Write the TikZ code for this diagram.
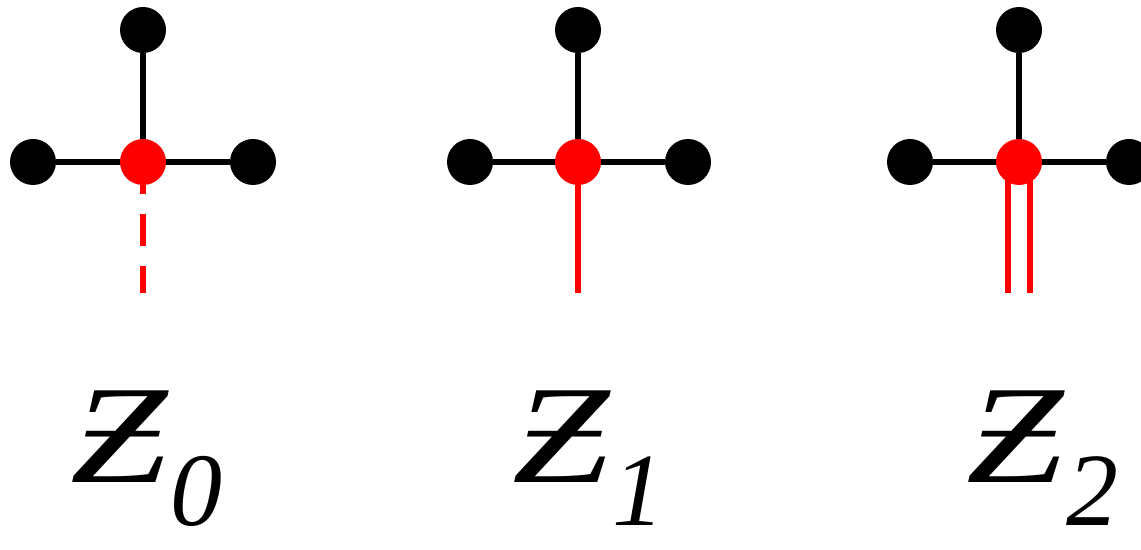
\documentclass[tikz,border=0pt]{standalone}
\usepackage{fontspec}
\newfontfamily\labelfont{Liberation Serif}
\usetikzlibrary{backgrounds}

\tikzset{
  site/.style={circle,fill=black,inner sep=0pt,minimum size=23pt},
  hub/.style={circle,fill=red,inner sep=0pt,minimum size=23pt},
  bond/.style={line width=2.8pt,black},
  leg/.style={line width=3pt,red},
  zlabel/.style={anchor=base west,inner sep=0pt,font=\labelfont\itshape\fontsize{70}{80}\selectfont}
}
\newcommand{\zletter}{\scalebox{1.25}[1]{Ƶ}}
\newcommand{\zsub}[1]{\hspace{0.02em}\raisebox{-0.3em}{\fontsize{52}{60}\selectfont #1}}

\begin{document}
\begin{tikzpicture}[x=0.5pt,y=-0.5pt]
        \useasboundingbox (0,0) rectangle (1141,550);
        % first star
        \node[hub] (c0) at (143,162) {};
        \node[site] (t0) at (143,30) {};
        \node[site] (l0) at (33,162) {};
        \node[site] (r0) at (253,162) {};
        \coordinate (e0) at (143,293);
        % second star
        \node[hub] (c1) at (578,162) {};
        \node[site] (t1) at (578,30) {};
        \node[site] (l1) at (470,162) {};
        \node[site] (r1) at (688,162) {};
        \coordinate (e1) at (578,293);
        % third star
        \node[hub] (c2) at (1019,162) {};
        \node[site] (t2) at (1019,30) {};
        \node[site] (l2) at (910,162) {};
        \node[site] (r2) at (1129,162) {};
        \coordinate (e2) at (1019,293);
        \begin{scope}[on background layer]
        \draw[bond] (l0) -- (r0);
        \draw[bond] (t0) -- (c0);
        \draw[bond] (l1) -- (r1);
        \draw[bond] (t1) -- (c1);
        \draw[bond] (l2) -- (r2);
        \draw[bond] (t2) -- (c2);
        \draw[leg,dash pattern=on 16pt off 10pt] (c0.center) -- (e0);
        \draw[leg] (c1.center) -- (e1);
        \draw[leg] ([xshift=-5.5pt]c2.center) -- ([xshift=-5.5pt]e2);
        \draw[leg] ([xshift=5.5pt]c2.center) -- ([xshift=5.5pt]e2);
        \end{scope}
        % labels
        \node[zlabel] (z0) at (70,483) {\zletter\zsub{0}};
        \node[zlabel] (z1) at (512,483) {\zletter\zsub{1}};
        \node[zlabel] (z2) at (966,483) {\zletter\zsub{2}};
    \end{tikzpicture}
\end{document}
